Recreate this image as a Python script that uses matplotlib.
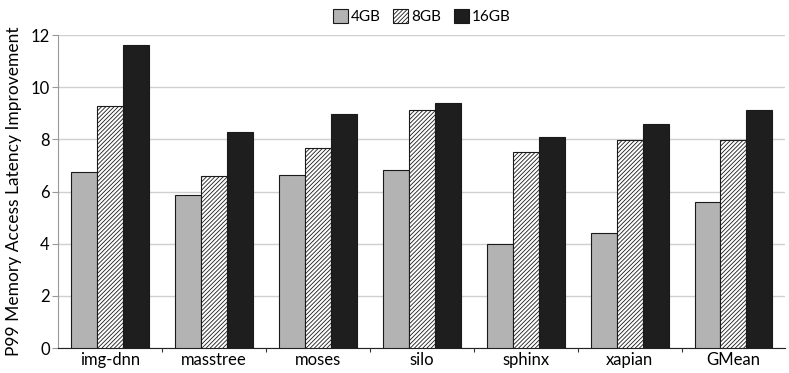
import matplotlib.pyplot as plt
import numpy as np

plt.rcParams['font.family'] = ['Lato', 'DejaVu Sans']
plt.rcParams['hatch.linewidth'] = 0.6

benchmarks = ["img-dnn", "masstree", "moses", "silo", "sphinx", "xapian", "GMean"]
gb4 = [6.75, 5.87, 6.63, 6.82, 3.99, 4.41, 5.60]
gb8 = [9.28, 6.60, 7.67, 9.13, 7.52, 7.97, 7.97]
gb16 = [11.62, 8.28, 8.97, 9.40, 8.09, 8.59, 9.13]


def plot_chart():
    fig = plt.figure(figsize=(7.89, 3.73), dpi=100)
    ax = fig.add_axes([0.0735, 0.067, 0.922, 0.839])

    x = np.arange(len(benchmarks))
    w = 0.25
    ax.bar(x - w, gb4, w, color="#b3b3b3", edgecolor="#1a1a1a", linewidth=0.8, label="4GB", zorder=3)
    ax.bar(x, gb8, w, color="white", edgecolor="#1a1a1a", hatch="////////", linewidth=0.8, label="8GB", zorder=3)
    ax.bar(x + w, gb16, w, color="#1e1e1e", edgecolor="#1a1a1a", linewidth=0.8, label="16GB", zorder=3)

    ax.set_xlim(-0.5, len(benchmarks) - 0.5)
    ax.set_ylim(0, 12)
    ax.set_yticks(range(0, 13, 2))
    ax.set_xticks(x)
    ax.set_xticklabels(benchmarks, fontsize=12)
    ax.set_xticks(np.arange(0.5, len(benchmarks) - 0.5), minor=True)
    ax.tick_params(axis="x", which="major", length=0, pad=3)
    ax.tick_params(axis="x", which="minor", length=3, width=0.8, color="#333333")
    ax.tick_params(axis="y", labelsize=12, length=4, color="#999999", pad=2)
    ax.grid(axis="y", color="#d0d0d0", linewidth=1, zorder=0)
    ax.set_ylabel("P99 Memory Access Latency Improvement", fontsize=12.5, labelpad=6)

    for s in ["top", "right"]:
        ax.spines[s].set_visible(False)
    ax.spines["left"].set_color("#999999")
    ax.spines["bottom"].set_color("#222222")

    ax.legend(loc="lower center", bbox_to_anchor=(0.5, 1.0), ncol=3, frameon=False,
              fontsize=11, handlelength=1.0, handleheight=1.0, handletextpad=0.2,
              columnspacing=0.8, borderaxespad=0.3)

    fig.savefig("out.png", dpi=100)


if __name__ == "__main__":
    plot_chart()
